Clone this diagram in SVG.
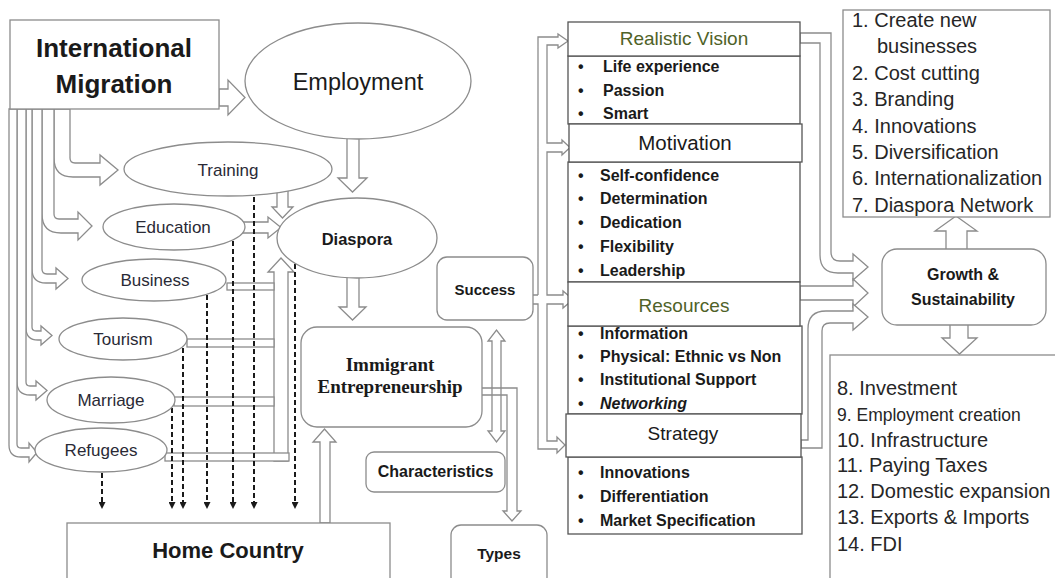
<svg xmlns="http://www.w3.org/2000/svg" width="1055" height="578" viewBox="0 0 1055 578">
<style>
text{font-family:"Liberation Sans",Arial,sans-serif;fill:#1a1a1a}
.b{font-weight:bold}
.c{text-anchor:middle}
.sh{fill:#fff;stroke:#8c8c8c;stroke-width:1.3}
.hl{fill:none;stroke:#8c8c8c;stroke-width:1.3}
.bx{fill:#fff;stroke:#555;stroke-width:1.3}
.dash{stroke:#1a1a1a;stroke-width:2;stroke-dasharray:5,3;fill:none;marker-end:url(#ah)}
.el{font-size:17px;fill:#2a2a36;text-anchor:middle}
.hd{font-size:19px;text-anchor:middle}
.li{font-size:16px;font-weight:bold}
.nl{font-size:20px;fill:#262626}
.g{fill:#4f6228}
</style>
<defs>
<marker id="ah" markerWidth="7" markerHeight="7" refX="0" refY="3.5" orient="auto" markerUnits="userSpaceOnUse" viewBox="0 0 7 7"><path d="M0,0 L7,3.5 L0,7 Z" fill="#1a1a1a"/></marker>
</defs>
<rect width="1055" height="578" fill="#fff"/>

<g id="connectors">
  <!-- left bent arrows from International Migration -->
  <path class="sh" d="M70,109 V158 Q70,163 75,163 H100 V155 L118,170 L100,185 V177 H73 Q54,177 54,158 V109 Z"/>
  <path class="sh" d="M54,109 V214 Q54,219 59,219 H78 V212 L92,226 L78,240 V233 H61 Q42,233 42,214 V109 Z"/>
  <path class="sh" d="M42,109 V269 Q42,274 47,274 H56 V268 L68,278.5 L56,289 V283 H46 Q32,283 32,269 V109 Z"/>
  <path class="sh" d="M32,109 V327 Q32,331 36,331 H41 V326 L52,335.5 L41,345 V340 H38 Q26,340 26,328 V109 Z"/>
  <path class="sh" d="M26,109 V382 Q26,386 30,386 H36 V381 L47,390.5 L36,400 V395 H30 Q17,395 17,382 V109 Z"/>
  <path class="sh" d="M17,109 V444 Q17,448 21,448 H29 V443 L37,452.5 L29,462 V457 H21 Q9,457 9,445 V109 Z"/>
  <!-- International Migration -> Employment -->
  <path class="sh" d="M219,89 H228 V80 L245,97.5 L228,115 V106 H219 Z"/>
  <!-- Employment -> Diaspora -->
  <path class="sh" d="M347,136 V178 H338 L352.5,192 L367,178 H359 V136 Z"/>
  <!-- Training -> Diaspora -->
  <path class="sh" d="M277,188 V207 H272 L282.5,218 L293,207 H288 V188 Z"/>
  <!-- Education -> Diaspora -->
  <path class="sh" d="M240,222 H268 V217 L281,227.5 L268,238 V233 H240 Z"/>
  <!-- collector shaft up to Diaspora -->
  <path class="sh" d="M274,461 V272 H268 L281,258 L294,272 H288 V461 Z"/>
  <rect class="sh" x="227" y="283" width="47" height="7"/>
  <rect class="sh" x="187" y="339" width="87" height="8"/>
  <rect class="sh" x="174" y="397" width="100" height="9"/>
  <rect class="sh" x="165" y="453" width="124" height="8"/>
  <!-- dashed links to Home Country -->
  <line class="dash" x1="102" y1="473" x2="102" y2="502"/>
  <line class="dash" x1="172" y1="408" x2="172" y2="502"/>
  <line class="dash" x1="183" y1="348" x2="183" y2="502"/>
  <line class="dash" x1="207" y1="295" x2="207" y2="502"/>
  <line class="dash" x1="233" y1="241" x2="233" y2="502"/>
  <line class="dash" x1="254" y1="197" x2="254" y2="502"/>
  <line class="dash" x1="295" y1="264" x2="295" y2="502"/>
  <!-- Diaspora -> Immigrant Entrepreneurship -->
  <path class="sh" d="M347,274 V307 H339 L352.5,320 L366,307 H359 V274 Z"/>
  <!-- Home Country -> Immigrant Entrepreneurship -->
  <path class="sh" d="M320,523 V442 H313 L324.5,429 L336,442 H330 V523 Z"/>
  <!-- Immigrant Entrepreneurship -> Types -->
  <path class="sh" d="M482,388 H517 V511 H521 L512,521 L503,511 H507 V395 H482"/>
  <!-- Success <-> Immigrant Entrepreneurship -->
  <path class="hl" d="M492,341 H488 L496.5,330 L505,341 H501 V431 H505 L496.5,442 L488,431 H492 Z"/>
  <!-- Success fork to the four factors -->
  <path class="sh" d="M538,295 V37 H558 V34 L568,41 L558,48 V45 H547 V143 H562 V140 L570,147.5 L562,155 V152 H547 V295 H563 V291 L573,299.5 L563,308 V304 H547 V441 H557 V437 L565,445 L557,453 V449 H538 V304 H533 M533,295 H538"/>
  <!-- factors -> Growth & Sustainability -->
  <path class="sh" d="M800,33 H831 V252 Q831,261 840,261 H853 V254 L868,267 L853,280 V273 H838 Q820,273 820,255 V43 H800 Z"/>
  <path class="sh" d="M800,286 H853 V279 L868,293 L853,307 V300 H800 Z"/>
  <path class="sh" d="M801,448 H822 V331 Q822,323 830,323 H853 V330 L868,317 L853,304 V311 H826 Q808,311 808,329 V440 H801 Z"/>
  <!-- Growth -> outcome lists -->
  <path class="sh" d="M946,252 V231 H935 L956,216 L977,231 H967 V252 Z"/>
  <path class="sh" d="M950,322 V338 H942 L959.5,354 L977,338 H968 V322 Z"/>
</g>

<g id="intl-migration">
  <rect class="sh" x="10" y="20" width="209" height="89"/>
  <text class="b c" x="114" y="57" font-size="26">International</text>
  <text class="b c" x="114" y="93" font-size="26">Migration</text>
</g>
<g id="employment">
  <ellipse class="sh" cx="358" cy="81" rx="113" ry="58"/>
  <text class="c" x="358" y="90" font-size="23.5" fill="#262626">Employment</text>
</g>
<g id="training">
  <ellipse class="sh" cx="228" cy="169" rx="104" ry="27"/>
  <text class="el" x="228" y="176">Training</text>
</g>
<g id="education">
  <ellipse class="sh" cx="174" cy="227" rx="71" ry="23"/>
  <text class="el" x="173" y="233">Education</text>
</g>
<g id="business">
  <ellipse class="sh" cx="154" cy="280" rx="72" ry="21"/>
  <text class="el" x="155" y="286">Business</text>
</g>
<g id="tourism">
  <ellipse class="sh" cx="123" cy="339" rx="64" ry="21"/>
  <text class="el" x="123" y="345">Tourism</text>
</g>
<g id="marriage">
  <ellipse class="sh" cx="111" cy="400" rx="64" ry="23"/>
  <text class="el" x="111" y="406">Marriage</text>
</g>
<g id="refugees">
  <ellipse class="sh" cx="101" cy="450" rx="66" ry="22"/>
  <text class="el" x="101" y="456">Refugees</text>
</g>
<g id="diaspora">
  <ellipse class="sh" cx="357" cy="238" rx="80" ry="40"/>
  <text class="b c" x="357" y="245" font-size="16.5">Diaspora</text>
</g>
<g id="immigrant-entrepreneurship">
  <rect class="sh" x="301" y="327" width="181" height="100" rx="16"/>
  <text class="b c" x="390" y="371" font-size="19" style="font-family:'Liberation Serif','Times New Roman',serif">Immigrant</text>
  <text class="b c" x="390" y="393" font-size="19" style="font-family:'Liberation Serif','Times New Roman',serif">Entrepreneurship</text>
</g>
<g id="home-country">
  <rect class="sh" x="67" y="523" width="323" height="70"/>
  <text class="b c" x="228" y="558" font-size="22">Home Country</text>
</g>
<g id="success">
  <rect class="sh" x="437" y="257" width="96" height="63" rx="10"/>
  <text class="b c" x="485" y="295" font-size="15">Success</text>
</g>
<g id="characteristics">
  <rect class="sh" x="366" y="452" width="139" height="40" rx="8"/>
  <text class="b c" x="435.5" y="477" font-size="16">Characteristics</text>
</g>
<g id="types">
  <rect class="sh" x="451" y="525" width="96" height="62" rx="10"/>
  <text class="b c" x="499" y="559" font-size="15.5">Types</text>
</g>

<g id="realistic-vision">
  <rect class="bx" x="568" y="56" width="232" height="68"/>
  <text class="li" x="578" y="72">•</text><text class="li" x="603" y="72">Life experience</text>
  <text class="li" x="578" y="96">•</text><text class="li" x="603" y="96">Passion</text>
  <text class="li" x="578" y="119">•</text><text class="li" x="603" y="119">Smart</text>
  <rect class="bx" x="568" y="22" width="232" height="34"/>
  <text class="hd g" x="684" y="45">Realistic Vision</text>
</g>
<g id="motivation">
  <rect class="bx" x="568" y="162" width="232" height="120"/>
  <text class="li" x="578" y="181">•</text><text class="li" x="600" y="181">Self-confidence</text>
  <text class="li" x="578" y="204">•</text><text class="li" x="600" y="204">Determination</text>
  <text class="li" x="578" y="228">•</text><text class="li" x="600" y="228">Dedication</text>
  <text class="li" x="578" y="252">•</text><text class="li" x="600" y="252">Flexibility</text>
  <text class="li" x="578" y="276">•</text><text class="li" x="600" y="276">Leadership</text>
  <rect class="bx" x="569" y="124" width="233" height="38"/>
  <text class="hd" x="685" y="150" style="font-size:20.5px">Motivation</text>
</g>
<g id="resources">
  <rect class="bx" x="568" y="326" width="234" height="88"/>
  <text class="li" x="578" y="339">•</text><text class="li" x="600" y="339">Information</text>
  <text class="li" x="578" y="362">•</text><text class="li" x="600" y="362">Physical: Ethnic vs Non</text>
  <text class="li" x="578" y="385">•</text><text class="li" x="600" y="385">Institutional Support</text>
  <text class="li" x="578" y="409">•</text><text class="li" x="600" y="409" style="font-style:italic">Networking</text>
  <rect class="bx" x="568" y="282" width="232" height="44"/>
  <text class="hd g" x="684" y="312">Resources</text>
</g>
<g id="strategy">
  <rect class="bx" x="568" y="457" width="234" height="77"/>
  <text class="li" x="578" y="478">•</text><text class="li" x="600" y="478">Innovations</text>
  <text class="li" x="578" y="502">•</text><text class="li" x="600" y="502">Differentiation</text>
  <text class="li" x="578" y="526">•</text><text class="li" x="600" y="526">Market Specification</text>
  <rect class="bx" x="566" y="414" width="235" height="43"/>
  <text class="hd" x="683" y="440">Strategy</text>
</g>

<g id="growth-sustainability">
  <rect class="sh" x="882" y="249" width="164" height="76" rx="15"/>
  <text class="b c" x="963" y="280" font-size="16">Growth &amp;</text>
  <text class="b c" x="963" y="305" font-size="16">Sustainability</text>
</g>
<g id="outcomes-1-7">
  <rect class="sh" x="843" y="10" width="207" height="207"/>
  <text class="nl" x="852" y="27">1. Create new</text>
  <text class="nl" x="877" y="53">businesses</text>
  <text class="nl" x="852" y="80">2. Cost cutting</text>
  <text class="nl" x="852" y="106">3. Branding</text>
  <text class="nl" x="852" y="133">4. Innovations</text>
  <text class="nl" x="852" y="159">5. Diversification</text>
  <text class="nl" x="852" y="185">6. Internationalization</text>
  <text class="nl" x="852" y="212">7. Diaspora Network</text>
</g>
<g id="outcomes-8-14">
  <rect class="sh" x="830" y="355" width="240" height="240"/>
  <text class="nl" x="837" y="395">8. Investment</text>
  <text class="nl" x="837" y="421" style="font-size:17.5px">9. Employment creation</text>
  <text class="nl" x="837" y="447">10. Infrastructure</text>
  <text class="nl" x="837" y="472">11. Paying Taxes</text>
  <text class="nl" x="837" y="498">12. Domestic expansion</text>
  <text class="nl" x="837" y="524">13. Exports &amp; Imports</text>
  <text class="nl" x="837" y="551">14. FDI</text>
</g>
</svg>
